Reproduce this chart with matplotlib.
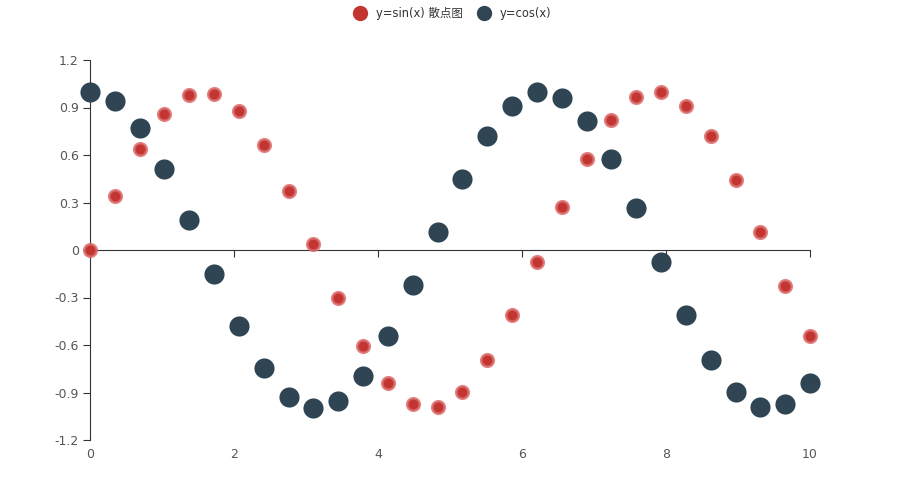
import matplotlib
matplotlib.use("Agg")
import matplotlib.pyplot as plt
from matplotlib.lines import Line2D

plt.rcParams['font.family'] = ['DejaVu Sans', 'Noto Sans CJK SC']

# x positions (30 samples between 0 and 10)
x_vals = [0.0, 0.345, 0.69, 1.034, 1.379, 1.724, 2.069, 2.414, 2.759, 3.103,
          3.448, 3.793, 4.138, 4.483, 4.828, 5.172, 5.517, 5.862, 6.207, 6.552,
          6.897, 7.241, 7.586, 7.931, 8.276, 8.621, 8.966, 9.31, 9.655, 10.0]
sin_vals = [0.0, 0.338, 0.637, 0.86, 0.982, 0.988, 0.879, 0.665, 0.373, 0.038,
            -0.303, -0.605, -0.841, -0.975, -0.993, -0.895, -0.695, -0.41, -0.076, 0.27,
            0.574, 0.821, 0.967, 0.999, 0.912, 0.719, 0.443, 0.114, -0.228, -0.544]
cos_vals = [1.0, 0.941, 0.771, 0.511, 0.191, -0.153, -0.478, -0.746, -0.928, -0.999,
            -0.953, -0.796, -0.542, -0.221, 0.116, 0.446, 0.719, 0.912, 0.997, 0.963,
            0.817, 0.576, 0.265, -0.077, -0.41, -0.694, -0.897, -0.993, -0.974, -0.839]
series_names = ["y=sin(x) 散点图", "y=cos(x)"]
y_ticks = [-1.2, -0.9, -0.6, -0.3, 0, 0.3, 0.6, 0.9, 1.2]
y_labels = ["-1.2", "-0.9", "-0.6", "-0.3", "0", "0.3", "0.6", "0.9", "1.2"]
x_ticks = [0, 2, 4, 6, 8, 10]

red = "#c23531"
navy = "#2f4554"
axis_col = "#333333"
text_col = "#555555"

fig = plt.figure(figsize=(9, 5), dpi=100)
ax = fig.add_axes([0.1, 0.12, 0.8, 0.76])

ax.scatter(x_vals, cos_vals, s=210, color=navy, linewidths=0, zorder=3, clip_on=False)
ax.scatter(x_vals, sin_vals, s=80, color=red, edgecolors=(0.86, 0.42, 0.42, 0.8),
           linewidths=2.0, zorder=4, clip_on=False)

ax.set_xlim(0, 10)
ax.set_ylim(-1.2, 1.2)
ax.set_yticks(y_ticks)
ax.set_yticklabels(y_labels)
ax.set_xticks(x_ticks)

for s in ['top', 'right']:
    ax.spines[s].set_visible(False)
ax.spines['bottom'].set_position(('data', 0))
ax.spines['bottom'].set_color(axis_col)
ax.spines['left'].set_color(axis_col)
ax.tick_params(axis='x', direction='out', length=5, color=axis_col, labelbottom=False)
ax.tick_params(axis='y', direction='out', length=5, color=axis_col,
               labelcolor=text_col, labelsize=9, pad=3)

# x labels at the bottom of the plot area
sec = ax.secondary_xaxis('bottom')
sec.set_xticks(x_ticks)
sec.spines['bottom'].set_visible(False)
sec.tick_params(length=0, pad=6, labelcolor=text_col, labelsize=9)

handles = [Line2D([], [], marker='o', linestyle='', markersize=10, color=red),
           Line2D([], [], marker='o', linestyle='', markersize=10, color=navy)]
leg = fig.legend(handles, series_names, loc='upper center', bbox_to_anchor=(0.5, 1.006),
                 ncol=2, frameon=False, fontsize=8.3, handletextpad=0.4,
                 columnspacing=0.8, labelcolor=axis_col)

fig.savefig("out.png", dpi=100)
